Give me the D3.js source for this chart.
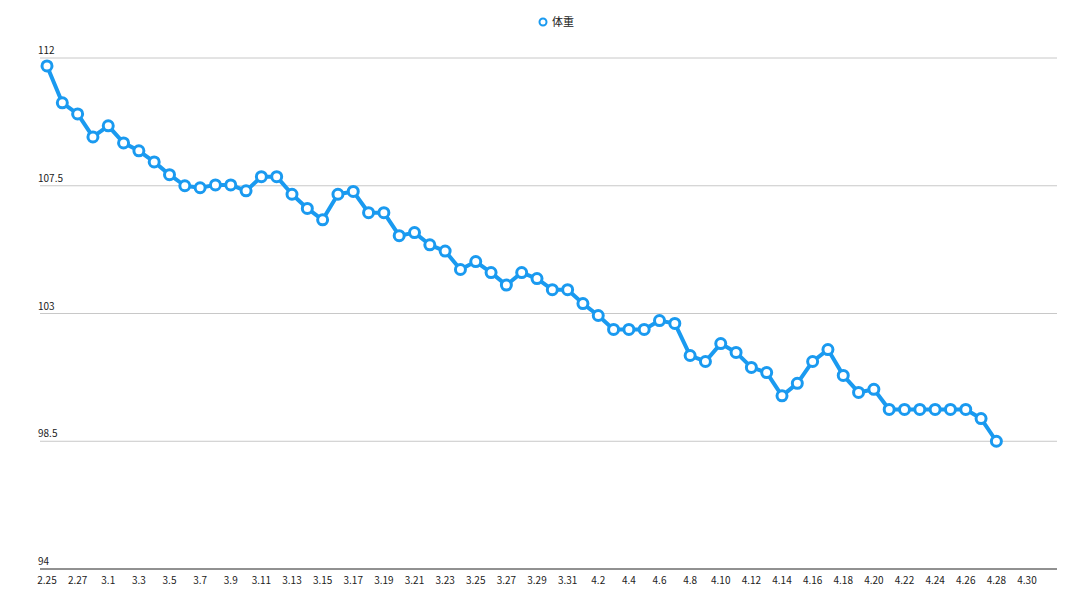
<!DOCTYPE html><html><head><meta charset="utf-8"><script src="https://cdn.jsdelivr.net/npm/d3@7"></script>
<style>body{margin:0;background:#fff}text{font-family:"Noto Sans CJK SC","Noto Sans",sans-serif}</style></head><body><svg id="c" width="1080" height="605"></svg><script>
const categories=[];
const months=[[2,25,28],[3,1,31],[4,1,30]];
months.forEach(([m,a,b])=>{for(let d=a;d<=b;d++)categories.push(m+"."+d);});
const weight=[111.72,110.42,110.03,109.22,109.61,109.01,108.73,108.34,107.89,107.5,107.43,107.53,107.53,107.32,107.82,107.82,107.2,106.7,106.3,107.2,107.3,106.55,106.55,105.74,105.85,105.42,105.2,104.55,104.83,104.44,104.0,104.44,104.23,103.84,103.84,103.35,102.93,102.44,102.44,102.44,102.75,102.65,101.52,101.31,101.94,101.63,101.1,100.92,100.1,100.54,101.31,101.73,100.82,100.22,100.33,99.62,99.62,99.62,99.62,99.62,99.62,99.3,98.5];
const yTicks=[94,98.5,103,107.5,112];
const svg=d3.select("#c");
const x=d3.scalePoint().domain(categories).range([47,1027]);
const y=d3.scaleLinear().domain([94,112]).range([569,58]);
const c="#1a9af0";
svg.selectAll(".g").data(yTicks.slice(1)).join("line").attr("x1",40).attr("x2",1057).attr("y1",d=>y(d)).attr("y2",d=>y(d)).attr("stroke","#c8c8c8").attr("stroke-width",1);
svg.append("line").attr("x1",40).attr("x2",1057).attr("y1",y(94)).attr("y2",y(94)).attr("stroke","#222");
svg.selectAll(".yl").data(yTicks).join("text").attr("x",38).attr("y",d=>y(d)-4).attr("font-size",10).attr("fill","#222").text(d=>d);
svg.selectAll(".xl").data(categories.filter((d,i)=>i%2==0)).join("text").attr("x",d=>x(d)).attr("y",584).attr("text-anchor","middle").attr("font-size",10).attr("fill","#222").text(d=>d);
svg.append("path").datum(weight).attr("d",d3.line().x((d,i)=>x(categories[i])).y(d=>y(d))).attr("fill","none").attr("stroke",c).attr("stroke-width",4).attr("stroke-linejoin","round");
svg.selectAll(".p").data(weight).join("circle").attr("cx",(d,i)=>x(categories[i])).attr("cy",d=>y(d)).attr("r",5).attr("fill","#fff").attr("stroke",c).attr("stroke-width",3);
svg.append("circle").attr("cx",543).attr("cy",22).attr("r",3.5).attr("fill","#fff").attr("stroke",c).attr("stroke-width",2);
svg.append("text").attr("x",552).attr("y",26).attr("font-size",11).attr("fill","#222").text("体重");
</script></body></html>
